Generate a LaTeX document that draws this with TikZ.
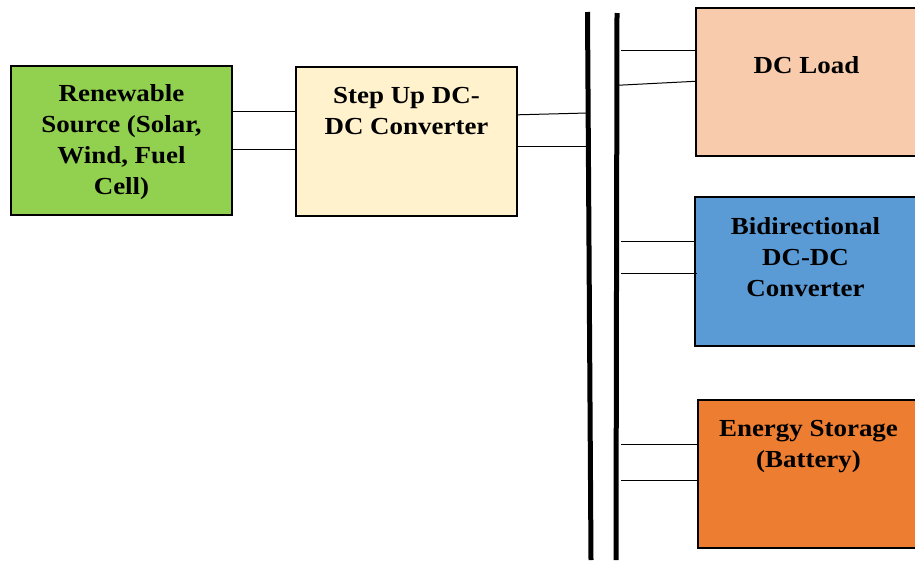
\documentclass[tikz,border=0pt]{standalone}
\usepackage{fontspec}
\setmainfont{Liberation Serif}
\newfontfamily\boxfont{Liberation Serif}[FakeStretch=1.1]
\usetikzlibrary{positioning,calc}

\definecolor{srcgreen}{HTML}{92D050}
\definecolor{convyellow}{HTML}{FFF2CC}
\definecolor{loadpeach}{HTML}{F8CBAD}
\definecolor{bidirblue}{HTML}{5B9BD5}
\definecolor{storeorange}{HTML}{ED7D31}

\tikzset{
  blk/.style={draw=black, line width=1.4pt, minimum width=221pt, minimum height=149pt, inner sep=0pt},
  lbl/.style={font=\boxfont\bfseries\fontsize{24.5}{31}\selectfont, align=center, inner sep=0pt},
  bus/.style={line width=5pt},
  wire/.style={line width=1pt}
}

\begin{document}
\begin{tikzpicture}[x=1pt, y=-1pt]
  \useasboundingbox (0,0) rectangle (915,560);

  %%% buses
  \coordinate (busA top) at (587.5,12);
  \coordinate (busA bot) at (591,560);
  \coordinate (busB top) at (617,13);
  \coordinate (busB bot) at (616,560);
  \coordinate (busB out) at (621,0);
  \draw[bus] (busA top) -- (busA bot);
  \draw[bus] (busB top) -- (busB bot);

  %%% blocks
  \node[blk, fill=srcgreen] (src) at (121.5,140.5) {};
  \node[lbl] (srctxt) at ($(src)+(0,2)$) {Renewable\\Source (Solar,\\Wind, Fuel\\Cell)};

  \node[blk, fill=convyellow] (step) at (406.5,141.5) {};
  \node[lbl] (steptxt) at ($(step)+(0,-30)$) {Step Up DC-\\DC Converter};

  \node[blk, fill=loadpeach, minimum height=148pt] (load) at (806.5,82) {};
  \node[lbl] (loadtxt) at ($(load)+(0,-17)$) {DC Load};

  \node[blk, fill=bidirblue] (bidir) at (805.5,271.5) {};
  \node[lbl] (bidirtxt) at ($(bidir)+(0,-14)$) {Bidirectional\\DC-DC\\Converter};

  \node[blk, fill=storeorange, minimum height=148pt] (store) at (808.5,474) {};
  \node[lbl] (storetxt) at ($(store)+(0,-27)$) {Energy Storage\\(Battery)};

  %%% source to converter
  \coordinate (a1) at ([yshift=-46.5pt]src.north east);
  \coordinate (a2) at ([yshift=-84pt]src.north east);
  \draw[wire] (a1) -- (a1 -| step.west);
  \draw[wire] (a2) -- (a2 -| step.west);

  %%% converter to bus
  \coordinate (b1) at ([yshift=-48.5pt]step.north east);
  \coordinate (b1e) at ([yshift=-46.7pt]step.north east);
  \coordinate (b2) at ([yshift=-80pt]step.north east);
  \draw[wire] (b1) -- (b1e -| busA top);
  \draw[wire] (b2) -- (b2 -| busA top);

  %%% bus to load
  \coordinate (c1) at ([yshift=-43pt]load.north west);
  \coordinate (c2) at ([yshift=-74pt]load.north west);
  \coordinate (c2e) at ([yshift=-78pt]load.north west);
  \draw[wire] (c1 -| busB out) -- (c1);
  \draw[wire] (c2e -| busB top) -- (c2);

  %%% bus to bidirectional converter
  \coordinate (d1) at ([yshift=-45.5pt]bidir.north west);
  \coordinate (d2) at ([yshift=-77pt]bidir.north west);
  \draw[wire] (d1 -| busB out) -- (d1);
  \draw[wire] (d2 -| busB out) -- ([xshift=3pt]d2);

  %%% bus to storage
  \coordinate (e1) at ([yshift=-45.5pt]store.north west);
  \coordinate (e2) at ([yshift=-81pt]store.north west);
  \draw[wire] (e1 -| busB out) -- (e1);
  \draw[wire] (e2 -| busB out) -- (e2);
\end{tikzpicture}
\end{document}
